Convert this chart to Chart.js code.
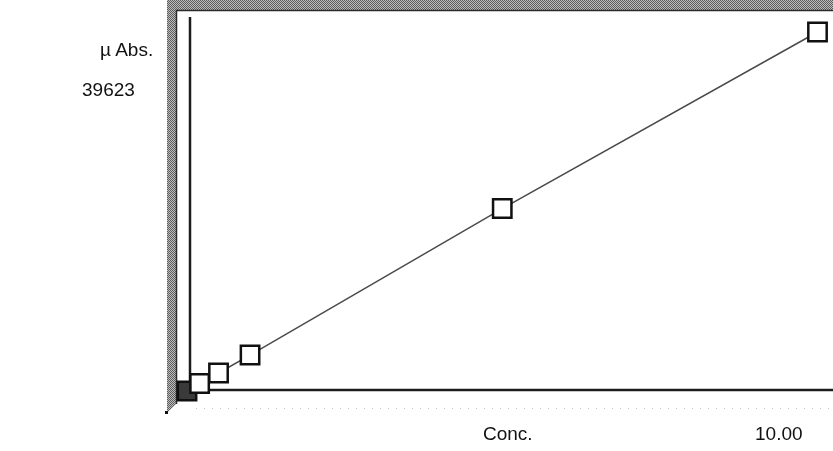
<!DOCTYPE html>
<html>
<head>
<meta charset="utf-8">
<script src="https://cdn.jsdelivr.net/npm/chart.js@4"></script>
<style>
  body { margin: 0; background: #fff; }
  #wrap { position: relative; width: 833px; height: 451px; overflow: hidden; }
  #calib { position: absolute; left: 0; top: 0; }
  .lbl { position: absolute; font-family: "Liberation Sans", Arial, sans-serif; font-size: 19px; line-height: 1; color: #111; white-space: nowrap; }
</style>
</head>
<body>
<div id="wrap">
  <canvas id="calib" width="833" height="451"></canvas>
  <div class="lbl" id="yTitle" style="left:100px; top:40px;">µ Abs.</div>
  <div class="lbl" id="yMax" style="left:82px; top:80px;">39623</div>
  <div class="lbl" id="xTitle" style="left:483px; top:424px;">Conc.</div>
  <div class="lbl" id="xMax" style="left:755px; top:424px;">10.00</div>
</div>
<script>
// calibration standards: concentration vs absorbance (µAbs)
const conc = [0, 0.2, 0.5, 1.0, 5.0, 10.0];
const absorb = [0, 830, 1990, 3970, 20140, 39623];
const xMaxLabel = '10.00';
const yMaxLabel = '39623';

document.getElementById('xMax').innerText = xMaxLabel;
document.getElementById('yMax').innerText = yMaxLabel;

// first point (blank) is drawn filled
const fills = conc.map((c, i) => i == 0 ? '#3a3a3a' : '#ffffff');

function checker(ctx) {
    const c = document.createElement('canvas');
    c.width = 2; c.height = 2;
    const p = c.getContext('2d');
    p.fillStyle = '#bcbcbc'; p.fillRect(0, 0, 2, 2);
    p.fillStyle = '#5e5e5e'; p.fillRect(0, 0, 1, 1); p.fillRect(1, 1, 1, 1);
    return ctx.createPattern(c, 'repeat');
}

// sunken grey frame round the plot
const framePlugin = {
    id: 'frame',
    beforeDraw(chart) {
        const ctx = chart.ctx;
        ctx.save();
        ctx.fillStyle = checker(ctx);
        ctx.fillRect(167, 0, 833 - 167, 10);
        ctx.beginPath();
        ctx.moveTo(167, 0);
        ctx.lineTo(176, 0);
        ctx.lineTo(176, 404);
        ctx.lineTo(167, 413);
        ctx.closePath();
        ctx.fill();
        ctx.strokeStyle = '#2a2a2a';
        ctx.lineWidth = 1.5;
        ctx.beginPath();
        ctx.moveTo(833, 10.5);
        ctx.lineTo(176.5, 10.5);
        ctx.lineTo(176.5, 404);
        ctx.stroke();
        ctx.fillStyle = '#111';
        ctx.fillRect(165, 411, 3, 3);
        ctx.restore();
    },
    beforeDatasetsDraw(chart) {
        const ctx = chart.ctx;
        const xs = chart.scales.x, ys = chart.scales.y;
        const x0 = xs.getPixelForValue(0) + 3;
        const y0 = ys.getPixelForValue(0) - 1;
        ctx.save();
        // axes
        ctx.strokeStyle = '#1c1c1c';
        ctx.lineWidth = 2.5;
        ctx.beginPath();
        ctx.moveTo(x0, 17);
        ctx.lineTo(x0, 400);
        ctx.moveTo(x0, y0);
        ctx.lineTo(833, y0);
        ctx.stroke();
        // faint tick row under the x axis
        ctx.strokeStyle = '#c8c8c8';
        ctx.lineWidth = 1;
        ctx.setLineDash([1, 7]);
        ctx.beginPath();
        ctx.moveTo(x0 + 6, y0 + 18.5);
        ctx.lineTo(833, y0 + 18.5);
        ctx.stroke();
        ctx.restore();
    }
};

new Chart(document.getElementById('calib'), {
    type: 'scatter',
    data: {
        datasets: [{
            data: conc.map((c, i) => ({ x: c, y: absorb[i] })),
            showLine: true,
            borderColor: '#4a4a4a',
            borderWidth: 1.5,
            pointStyle: 'rect',
            pointRadius: 13,
            pointBorderWidth: 2.5,
            pointBorderColor: '#111111',
            pointBackgroundColor: fills,
            clip: false
        }]
    },
    options: {
        responsive: false,
        animation: false,
        layout: { padding: { left: 187, right: 10, top: 32, bottom: 60 } },
        plugins: { legend: { display: false }, tooltip: { enabled: false } },
        scales: {
            x: { type: 'linear', display: false, min: 0, max: 10 },
            y: { type: 'linear', display: false, min: 0, max: 39623 }
        }
    },
    plugins: [framePlugin]
});
</script>
</body>
</html>
